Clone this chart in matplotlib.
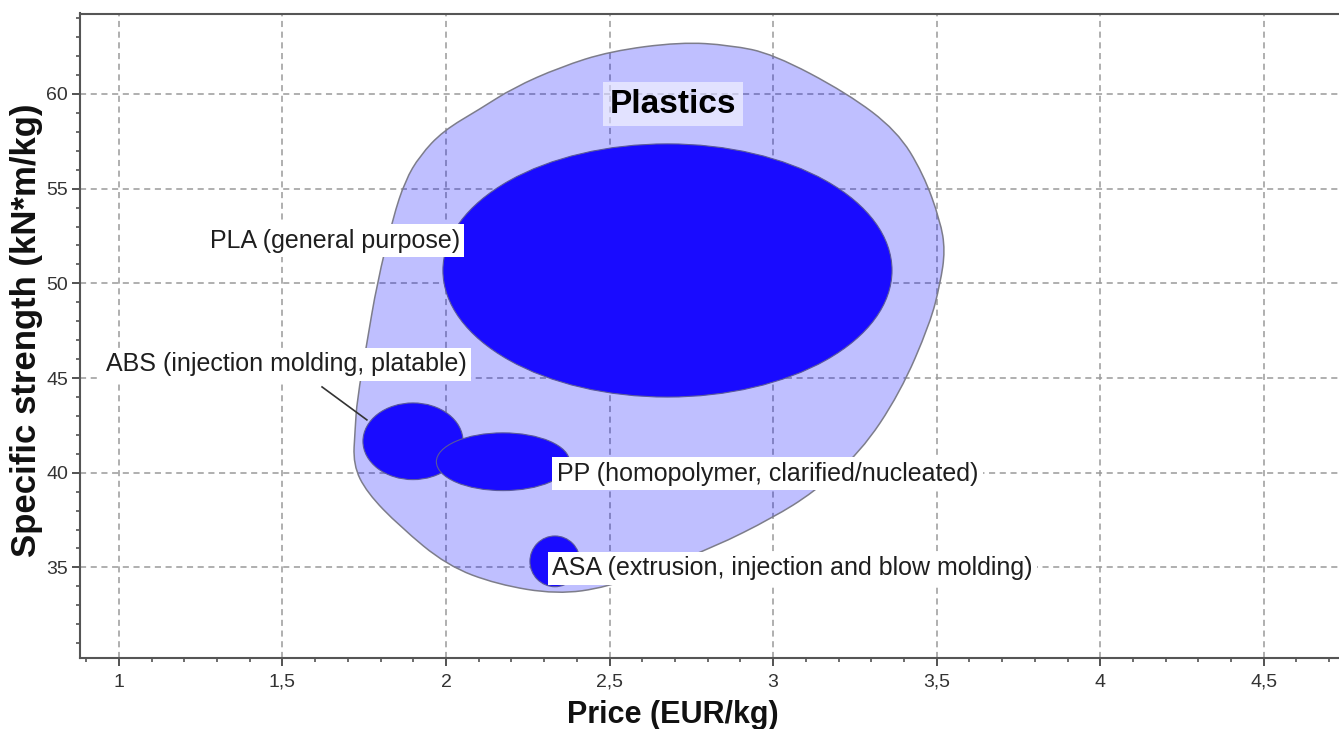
import matplotlib
matplotlib.use("Agg")
import matplotlib.pyplot as plt
from matplotlib.patches import Ellipse, PathPatch
from matplotlib.path import Path
from matplotlib.ticker import MultipleLocator, FuncFormatter
import numpy as np

plt.rcParams['font.family'] = ['Liberation Sans', 'DejaVu Sans']

# ---- data ----
materials = ["PLA (general purpose)", "ABS (injection molding, platable)",
             "PP (homopolymer, clarified/nucleated)",
             "ASA (extrusion, injection and blow molding)"]
center_price = [2.677, 1.899, 2.174, 2.333]
center_strength = [50.68, 41.66, 40.58, 35.32]
width_price = [1.373, 0.306, 0.407, 0.153]
height_strength = [13.37, 4.05, 3.05, 2.68]

label_price = [1.278, 0.960, 2.339, 2.324]
label_strength = [52.26, 45.74, 39.95, 34.95]

# Plastics family envelope outline (price, strength)
env_price = [2.104, 2.205, 2.349, 2.502, 2.716, 2.869, 3.000, 3.226, 3.379,
             3.459, 3.511, 3.526, 3.511, 3.480, 3.388, 3.266, 3.122, 3.000,
             2.817, 2.654, 2.492, 2.339, 2.156, 2.003, 1.859, 1.758, 1.716,
             1.722, 1.728, 1.758, 1.789, 1.838, 1.875, 1.920, 1.991]
env_strength = [59.21, 60.32, 61.42, 62.26, 62.74, 62.58, 62.11, 60.05, 58.05,
                55.79, 53.30, 51.74, 50.00, 47.89, 44.21, 41.05, 38.95, 37.63,
                36.05, 35.00, 33.95, 33.58, 34.10, 35.10, 37.16, 38.95, 40.42,
                42.26, 43.84, 46.84, 50.00, 53.47, 55.42, 56.74, 58.05]
family_label = "Plastics"
family_label_pos = (2.694, 59.47)

x_ticks = [1, 1.5, 2, 2.5, 3, 3.5, 4, 4.5]
y_ticks = [35, 40, 45, 50, 55, 60]

# ---- figure ----
fig = plt.figure(figsize=(13.39, 7.29), dpi=100)
ax = fig.add_axes([80 / 1339, 1 - 658.3 / 729, 1 - 80 / 1339, (658.3 - 13.5) / 729])
ax.set_xlim(0.881, 4.73)
ax.set_ylim(30.2, 64.25)

# grid
ax.set_axisbelow(True)
ax.grid(True, which='major', color='#9a9a9a', linestyle=(0, (4, 3)), linewidth=1.1)

# envelope (smooth closed curve through control points)
pts = np.column_stack([env_price, env_strength])
n = len(pts)
verts = []
codes = []
mids = [(pts[i] + pts[(i + 1) % n]) / 2 for i in range(n)]
verts.append(mids[-1]); codes.append(Path.MOVETO)
for i in range(n):
    verts.append(pts[i]); codes.append(Path.CURVE3)
    verts.append(mids[i]); codes.append(Path.CURVE3)
verts.append(mids[-1]); codes.append(Path.CLOSEPOLY)
env_path = Path(verts, codes)
ax.add_patch(PathPatch(env_path, facecolor=(0.0, 0.0, 1.0, 0.25),
                       edgecolor='#7d7d8a', linewidth=1.1, zorder=1))

# material bubbles
for i in range(len(materials)):
    e = Ellipse((center_price[i], center_strength[i]), width_price[i], height_strength[i],
                facecolor='#190bff', edgecolor='#5a5a9a', linewidth=0.8, zorder=2 + i * 0.01)
    ax.add_patch(e)

# ABS leader line
ax.plot([1.621, 1.758], [44.53, 42.79], color='#333333', linewidth=1.2, zorder=2.5)

# labels
for i, name in enumerate(materials):
    ax.text(label_price[i], label_strength[i], name, ha='left', va='center',
            fontsize=18, color='#1e1e1e', zorder=4,
            bbox=dict(boxstyle='square,pad=0.18', facecolor='white', edgecolor='none'))

ax.text(family_label_pos[0], family_label_pos[1], family_label, ha='center', va='center',
        fontsize=24, fontweight='bold', color='black', zorder=4,
        bbox=dict(boxstyle='square,pad=0.2', facecolor=(1, 1, 1, 0.55), edgecolor='none'))

# ticks
ax.xaxis.set_minor_locator(MultipleLocator(0.1))
ax.yaxis.set_minor_locator(MultipleLocator(1))
ax.set_xticks(x_ticks)
ax.set_yticks(y_ticks)
fmt = FuncFormatter(lambda v, p: ('%g' % v).replace('.', ','))
ax.xaxis.set_major_formatter(fmt)
ax.tick_params(which='major', direction='out', length=6, width=1.3, colors='#444444',
               labelsize=14, labelcolor='#333333')
ax.tick_params(axis='x', which='major', pad=5)
ax.tick_params(axis='y', which='major', pad=2.5)
ax.tick_params(which='minor', direction='out', length=3, width=1.1, colors='#444444')

for s in ['left', 'bottom', 'top']:
    ax.spines[s].set_color('#555555')
    ax.spines[s].set_linewidth(1.5)
ax.spines['right'].set_visible(False)

ax.set_xlabel('Price (EUR/kg)', fontsize=22, fontweight='bold', color='#111111')
ax.xaxis.set_label_coords((673 - 80) / 1259, -(715 - 658.3) / 644.8)
ax.xaxis.label.set_va('center')
ax.set_ylabel('Specific strength (kN*m/kg)', fontsize=25, fontweight='bold', color='#111111')
ax.yaxis.set_label_coords(-(80 - 27) / 1259, (658.3 - 330) / 644.8)
ax.yaxis.label.set_va('center')

fig.savefig('out.png', dpi=100)
